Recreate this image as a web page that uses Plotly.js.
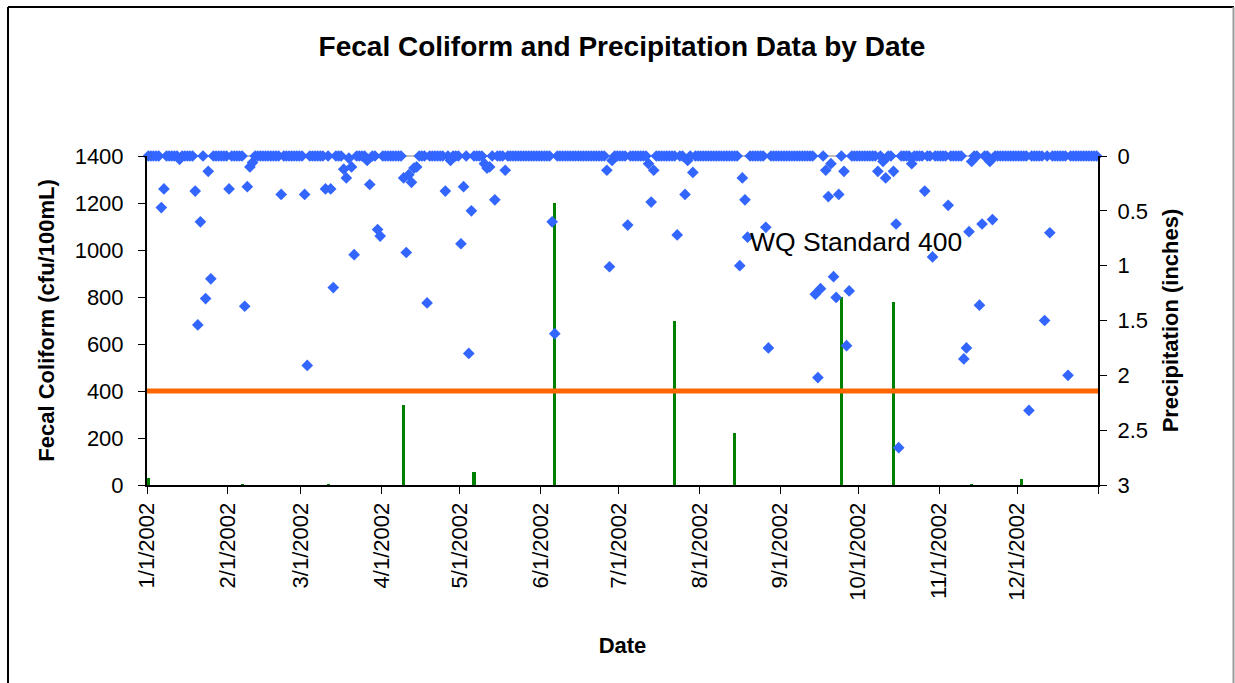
<!DOCTYPE html>
<html>
<head>
<meta charset="utf-8">
<script src="https://cdn.plot.ly/plotly-3.0.1.min.js"></script>
<style>
  html, body { margin: 0; padding: 0; background: #ffffff; }
  #chart { width: 1235px; height: 683px; }
</style>
</head>
<body>
<div id="chart"></div>
<script>
// ---- Daily precipitation (inches), 2002, one array per month ----
const precipJan = [0,0,0,0,0,0.47,0.30,0,0,0,0,0,0.03,0,0,0,0,0,0.32,1.54,0.60,0,1.30,0.14,1.12,0,0,0,0,0,0];
const precipFeb = [0.30,0,0,0,0,0,1.37,0.28,0.10,0.06,0,0,0,0,0,0,0,0,0,0,0.35,0,0,0,0,0,0,0];
const precipMar = [0,0.35,1.91,0,0,0,0,0,0,0.30,0,0.30,1.20,0,0,0,0.12,0.20,0.02,0.10,0.90,0,0,0,0,0.04,0.26,0,0,0.67,0.73];
const precipApr = [0,0,0,0,0,0,0,0,0.20,0.88,0.17,0.24,0.11,0.10,0,0,0,1.34,0,0,0,0,0,0,0.32,0,0.04,0,0,0];
const precipMay = [0.80,0.28,0,1.80,0.50,0,0,0,0,0.07,0.11,0.10,0,0.40,0,0,0,0.13,0,0,0,0,0,0,0,0,0,0,0,0,0];
const precipJun = [0,0,0,0,0.60,1.62,0,0,0,0,0,0,0,0,0,0,0,0,0,0,0,0,0,0,0,0.13,1.01,0.04,0,0];
const precipJul = [0,0,0,0.63,0,0,0,0,0,0,0,0.07,0.42,0.13,0,0,0,0,0,0,0,0,0.72,0,0,0.35,0.04,0,0.15,0,0];
const precipAug = [0,0,0,0,0,0,0,0,0,0,0,0,0,0,0,1.00,0.20,0.40,0.74,0,0,0,0,0,0,0.65,1.75,0,0,0,0];
const precipSep = [0,0,0,0,0,0,0,0,0,0,0,0,0,1.26,2.02,1.21,0,0.13,0.37,0.07,1.10,1.29,0.35,0,0.14,1.73,1.23,0,0,0];
const precipOct = [0,0,0,0,0,0,0,0.14,0,0.05,0.20,0,0,0.14,0.62,2.66,0,0,0,0,0.07,0,0,0,0,0.32,0,0,0.92,0,0];
const precipNov = [0,0,0,0.45,0,0,0,0,0,1.85,1.75,0.69,0.05,0,0,1.36,0.62,0,0,0.05,0.58,0,0,0,0,0,0,0,0,0];
const precipDec = [0,0,0,0,2.32,0,0,0,0,0,1.50,0,0.70,0,0,0,0,0,0,2.00,0,0,0,0,0,0,0,0,0,0,0];

// ---- Fecal coliform samples (cfu/100mL) ----
const fecalDates  = ['2002-01-01','2002-02-06','2002-03-11','2002-04-09','2002-05-06','2002-06-06',
                     '2002-07-22','2002-08-14','2002-09-24','2002-10-14','2002-11-13','2002-12-02'];
const fecalValues = [28, 5, 5, 340, 55, 1200, 700, 220, 800, 780, 3, 25];

// ---- Water quality standard ----
const wqStandard = 400;
const wqDates = ['2002-01-01', '2003-01-01'];

// ---- Axis ticks ----
const monthTickVals = ['2002-01-01','2002-02-01','2002-03-01','2002-04-01','2002-05-01','2002-06-01',
                       '2002-07-01','2002-08-01','2002-09-01','2002-10-01','2002-11-01','2002-12-01','2003-01-01'];
const monthTickText = ['1/1/2002','2/1/2002','3/1/2002','4/1/2002','5/1/2002','6/1/2002',
                       '7/1/2002','8/1/2002','9/1/2002','10/1/2002','11/1/2002','12/1/2002',''];
const fecalTicks  = [0, 200, 400, 600, 800, 1000, 1200, 1400];
const precipTicks = [0, 0.5, 1, 1.5, 2, 2.5, 3];

// Build daily date list from the month arrays
const precipMonths = [precipJan, precipFeb, precipMar, precipApr, precipMay, precipJun,
                      precipJul, precipAug, precipSep, precipOct, precipNov, precipDec];
const precipDates = [];
const precipValues = [];
precipMonths.forEach(function (arr, m) {
  arr.forEach(function (v, d) {
    precipDates.push('2002-' + String(m + 1).padStart(2, '0') + '-' + String(d + 1).padStart(2, '0'));
    precipValues.push(v);
  });
});

const FONT = 'Liberation Sans, Arial, sans-serif';
const DAY = 86400000;

const traces = [
  {
    type: 'bar', name: 'Fecal Coliform',
    x: fecalDates, y: fecalValues, yaxis: 'y',
    xperiod: DAY, xperiodalignment: 'middle',
    width: DAY * 1.2,
    marker: { color: '#008000', line: { width: 0 } },
    hoverinfo: 'x+y'
  },
  {
    type: 'scatter', mode: 'lines', name: 'WQ Standard',
    x: wqDates, y: [wqStandard, wqStandard], yaxis: 'y',
    line: { color: '#FF6600', width: 5 },
    hoverinfo: 'y'
  },
  {
    type: 'scatter', mode: 'markers', name: 'Precipitation',
    x: precipDates, y: precipValues, yaxis: 'y2',
    xperiod: DAY, xperiodalignment: 'middle',
    marker: { symbol: 'diamond', size: 9, color: '#3366FF', line: { width: 0 } },
    cliponaxis: false,
    hoverinfo: 'x+y'
  }
];

const layout = {
  width: 1235, height: 683,
  paper_bgcolor: '#ffffff', plot_bgcolor: '#ffffff',
  margin: { l: 147, r: 137, t: 156, b: 198, pad: 0 },
  showlegend: false,
  bargap: 0,
  font: { family: FONT, color: '#000000', size: 22 },
  title: {
    text: '<b>Fecal Coliform and Precipitation Data by Date</b>',
    font: { family: FONT, size: 28, color: '#000000' },
    x: (622 - 147) / 951, xanchor: 'center', xref: 'paper',
    y: 1 - 46 / 683, yanchor: 'middle', yref: 'container'
  },
  xaxis: {
    type: 'date',
    range: ['2002-01-01', '2003-01-01'],
    tickmode: 'array', tickvals: monthTickVals, ticktext: monthTickText,
    tickangle: -90,
    ticks: 'outside', ticklen: 7, tickcolor: '#000000', tickwidth: 1,
    showline: true, linecolor: '#000000', linewidth: 2,
    showgrid: false, zeroline: false,
    tickfont: { family: FONT, size: 22, color: '#000000' },
    title: { text: '<b>Date</b>', font: { family: FONT, size: 22, color: '#000000' }, standoff: 38 }
  },
  yaxis: {
    range: [0, 1400],
    tickmode: 'array', tickvals: fecalTicks,
    ticks: 'outside', ticklen: 7, tickcolor: '#000000', tickwidth: 1,
    showline: true, linecolor: '#000000', linewidth: 2,
    showgrid: false, zeroline: false,
    tickfont: { family: FONT, size: 22, color: '#000000' },
    ticklabelstandoff: 10,
    title: { text: '<b>Fecal Coliform (cfu/100mL)</b>', font: { family: FONT, size: 22, color: '#000000' }, standoff: 14 }
  },
  yaxis2: {
    overlaying: 'y', side: 'right', anchor: 'x',
    range: [3, 0],
    tickmode: 'array', tickvals: precipTicks,
    ticks: 'outside', ticklen: 7, tickcolor: '#000000', tickwidth: 1,
    showline: true, linecolor: '#000000', linewidth: 2,
    showgrid: false, zeroline: false,
    tickfont: { family: FONT, size: 22, color: '#000000' },
    ticklabelstandoff: 6,
    title: { text: '<b>Precipitation (inches)</b>', font: { family: FONT, size: 22, color: '#000000' }, standoff: 16 }
  },
  yaxis3: {
    overlaying: 'y', side: 'right', anchor: 'x',
    range: [3, 0],
    tickmode: 'array', tickvals: precipTicks,
    ticks: 'inside', ticklen: 7, tickcolor: '#000000', tickwidth: 1,
    showticklabels: false, showline: false,
    showgrid: false, zeroline: false
  },
  annotations: [
    {
      text: 'WQ Standard 400', xref: 'paper', yref: 'paper',
      x: (856 - 147) / 951, y: (485 - 242) / 329,
      xanchor: 'center', yanchor: 'middle', showarrow: false,
      font: { family: FONT, size: 26.5, color: '#000000' }
    }
  ],
  shapes: [
    // line along the top of the plot area (secondary axis line)
    { type: 'line', xref: 'paper', yref: 'paper', x0: 0, x1: 1, y0: 1, y1: 1,
      line: { color: '#808080', width: 1 }, layer: 'below' },
    // chart-area border
    { type: 'line', xref: 'paper', yref: 'paper', x0: (8 - 147) / 951, x1: (8 - 147) / 951,
      y0: (485 - 700) / 329, y1: (485 - 7) / 329, line: { color: '#000000', width: 2 } },
    { type: 'line', xref: 'paper', yref: 'paper', x0: (8 - 147) / 951, x1: (1234 - 147) / 951,
      y0: (485 - 7) / 329, y1: (485 - 7) / 329, line: { color: '#000000', width: 2 } },
    { type: 'line', xref: 'paper', yref: 'paper', x0: (1233.5 - 147) / 951, x1: (1233.5 - 147) / 951,
      y0: (485 - 700) / 329, y1: (485 - 7) / 329, line: { color: '#9a9a9a', width: 2 } }
  ]
};

Plotly.newPlot('chart', traces, layout, { displayModeBar: false, staticPlot: true });
</script>
</body>
</html>
